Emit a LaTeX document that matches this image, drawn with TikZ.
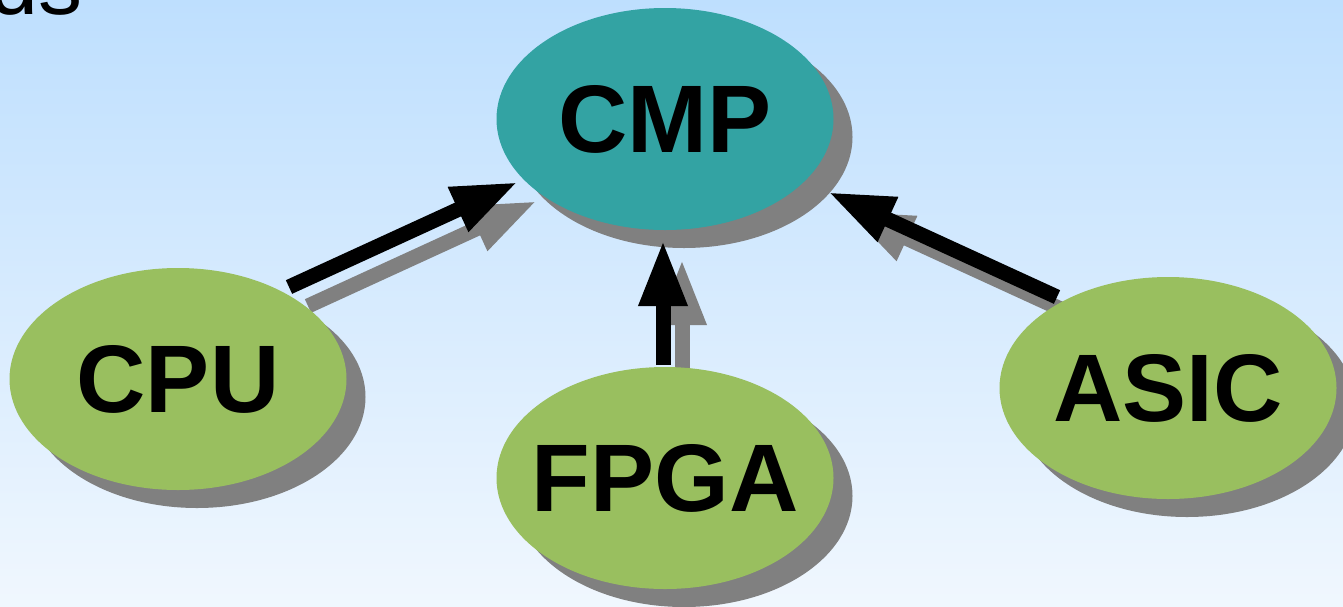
\documentclass[tikz,border=0pt]{standalone}
\usepackage{fontspec}
\setmainfont{Liberation Sans}
\usetikzlibrary{arrows.meta,shapes.geometric}
\definecolor{bgtop}{RGB}{190,223,254}
\definecolor{bgbot}{RGB}{240,247,254}
\definecolor{cmpcol}{RGB}{51,163,163}
\definecolor{leafcol}{RGB}{153,191,95}
\definecolor{shadowgray}{RGB}{128,128,128}
\tikzset{
  ellbase/.style={ellipse, minimum width=337pt, minimum height=222pt, inner sep=0pt},
  ellshadow/.style={ellbase, fill=shadowgray},
  cmpnode/.style={ellbase, fill=cmpcol, font=\fontsize{96}{96}\selectfont\bfseries},
  leafnode/.style={ellbase, fill=leafcol, font=\fontsize{96}{96}\selectfont\bfseries},
  bigarrow/.style={line width=15pt, -{Triangle[length=66pt,width=45pt]}},
  blackarrow/.style={bigarrow, draw=black},
  shadowarrow/.style={bigarrow, draw=shadowgray, transform canvas={xshift=19pt, yshift=-19pt}}
}
\begin{document}
\begin{tikzpicture}[x=1pt,y=-1pt]
\useasboundingbox (0,0) rectangle (1343,606);
\clip (0,0) rectangle (1343,606);
\shade[top color=bgtop, bottom color=bgbot] (0,0) rectangle (1343,606);
\node[anchor=base east, font=\fontsize{88}{88}\selectfont, inner sep=0pt] (title) at (83,14) {ds};
% ellipse shadows
\node[ellshadow] (cmpS) at (684,137) {};
\node[ellshadow] (cpuS) at (197,397) {};
\node[ellshadow] (fpgaS) at (684,496) {};
\node[ellshadow] (asicS) at (1187,406) {};
% arrow end points
\coordinate (cpuT) at (289,287);
\coordinate (cpuH) at (518,182);
\coordinate (fpgaT) at (663,365);
\coordinate (fpgaH) at (663,240);
\coordinate (asicT) at (1057,297);
\coordinate (asicH) at (828,192);
% arrow shadows
\draw[shadowarrow] (cpuT) -- (cpuH);
\draw[shadowarrow] (fpgaT) -- (fpgaH);
\draw[shadowarrow] (asicT) -- (asicH);
% ellipses
\node[cmpnode] (cmp) at (665,119) {\makebox[0pt]{CMP}};
\node[leafnode] (cpu) at (178,379) {\makebox[0pt]{CPU}};
\node[leafnode] (fpga) at (665,478) {\makebox[0pt]{FPGA}};
\node[leafnode] (asic) at (1168,388) {\makebox[0pt]{ASIC}};
% arrows
\draw[blackarrow] (cpuT) -- (cpuH);
\draw[blackarrow] (fpgaT) -- (fpgaH);
\draw[blackarrow] (asicT) -- (asicH);
\end{tikzpicture}
\end{document}
